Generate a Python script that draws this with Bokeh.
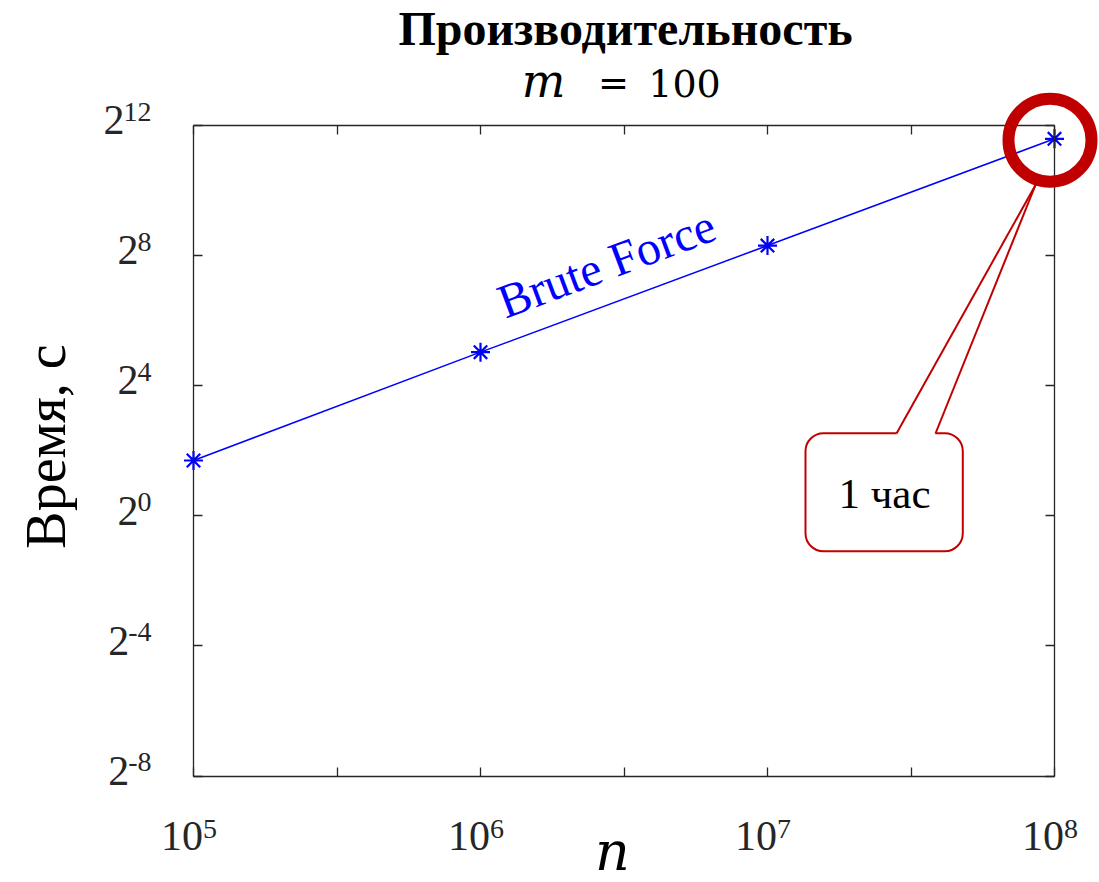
import math
from bokeh.plotting import figure
from bokeh.models import (LogAxis, FixedTicker, Label, BoxAnnotation, Range1d,
                          CustomJSTickFormatter)
from bokeh.embed import file_html
from bokeh.resources import INLINE

# ---------------- data ----------------
n_values = [1e5, 1e6, 1e7, 1e8]
time_values = [3.25, 32.7, 317.0, 3084.0]
x_tick_exps = [5, 6, 7, 8]
y_tick_exps = [-8, -4, 0, 4, 8, 12]
title_text = "Производительность"
subtitle_parts = ["m", "=", "100"]
x_label = "n"
y_label = "Время, с"
series_label = "Brute Force"
callout_text = "1 час"

# ---------------- layout ----------------
W, H = 1099, 882
BL, BR, BT, BB = 193.0, 1054.0, 125.0, 775.5   # axes box (pixels)
S = 2                                           # side panel size
FL, FR, FT, FB = S, W - S, S, H - S             # drawing frame (pixels)

XMIN, XMAX = x_tick_exps[0], x_tick_exps[-1]
YMIN, YMAX = y_tick_exps[0], y_tick_exps[-1]
DX = (BR - BL) / (XMAX - XMIN)
DY = (BB - BT) / (YMAX - YMIN)


def px2x(px):
    return 10 ** (XMIN + (px - BL) / DX)


def py2y(py):
    return 2 ** (YMAX - (py - BT) / DY)


p = figure(frame_width=FR - FL, frame_height=FB - FT,
           x_axis_type="log", y_axis_type="log",
           x_range=Range1d(px2x(FL), px2x(FR)),
           y_range=Range1d(py2y(FB), py2y(FT)),
           toolbar_location=None, output_backend="svg",
           min_border_left=S, min_border_right=S,
           min_border_top=S, min_border_bottom=S)
p.xgrid.grid_line_color = None
p.ygrid.grid_line_color = None
p.outline_line_color = None
p.background_fill_color = "white"
p.border_fill_color = "white"

AX = "#262626"
x_major = [10 ** (XMIN + 0.5 * i) for i in range(2 * (XMAX - XMIN) + 1)]
y_major = [2.0 ** e for e in y_tick_exps]


def style(ax, ticks, loc, bounds):
    ax.ticker = FixedTicker(ticks=ticks, minor_ticks=[])
    ax.formatter = CustomJSTickFormatter(code="return ''")
    ax.fixed_location = loc
    ax.bounds = bounds
    ax.major_tick_in = 9
    ax.major_tick_out = 0
    ax.minor_tick_in = 0
    ax.minor_tick_out = 0
    ax.major_label_standoff = 0
    ax.major_label_text_font_size = "1px"
    ax.axis_line_color = AX
    ax.axis_line_width = 1.3
    ax.major_tick_line_color = AX
    ax.major_tick_line_width = 1.3


xb = (10.0 ** XMIN, 10.0 ** XMAX)
yb = (2.0 ** YMIN, 2.0 ** YMAX)
style(p.xaxis[0], x_major, 2.0 ** YMIN, xb)
style(p.yaxis[0], y_major, 10.0 ** XMIN, yb)
top_ax = LogAxis()
style(top_ax, x_major, 2.0 ** YMAX, xb)
p.add_layout(top_ax, "above")
right_ax = LogAxis()
style(right_ax, y_major, 10.0 ** XMAX, yb)
p.add_layout(right_ax, "right")

# ---------------- data series ----------------
BLUE = "#0000FF"
RED = "#C00000"
p.line(n_values, time_values, line_color=BLUE, line_width=1.5)
p.scatter(n_values, time_values, marker="asterisk", size=19,
          line_color=BLUE, line_width=2.2)

K_MID = 0.34  # distance from baseline to the middle of the text box (em)


def lab(px, py, text, size, font="Liberation Serif", style="normal",
        color="black", align="left", angle=0.0):
    """Place a text whose baseline passes through pixel point (px, py)."""
    ax_ = px - K_MID * size * math.sin(angle)
    ay_ = py - K_MID * size * math.cos(angle)
    p.add_layout(Label(x=px2x(ax_), y=py2y(ay_), text=text, text_font=font,
                       text_font_size=f"{size}px", text_font_style=style,
                       text_color=color, text_align=align,
                       text_baseline="middle", angle=angle))


# ---------------- tick labels ----------------
BASE_FS, SUP_FS = 42, 28


def sup_width(s):
    return sum((0.333 if ch == "-" else 0.5) * SUP_FS for ch in s)


for e in x_tick_exps:
    tx = BL + (e - XMIN) * DX
    base_w = 2 * 0.5 * BASE_FS
    sw = sup_width(str(e))
    left = tx - 4.5 - (base_w + sw) / 2
    lab(left, 850, "10", BASE_FS, color=AX)
    lab(left + base_w, 838, str(e), SUP_FS, color=AX)

for e in y_tick_exps:
    ty = BT + (YMAX - e) * DY
    s = str(e)
    right = 151
    lab(right, ty - 4, s, SUP_FS, color=AX, align="right")
    lab(right - sup_width(s) + 1, ty + 9, "2", BASE_FS, color=AX, align="right")

# ---------------- titles ----------------
lab(625, 44, title_text, 48, style="bold", align="center")
lab(543, 96, subtitle_parts[0], 46, font="DejaVu Serif", style="italic", align="center")
lab(613, 96, subtitle_parts[1], 37, font="DejaVu Serif", align="center")
lab(684, 96, subtitle_parts[2], 38, font="DejaVu Serif", align="center")
lab(612, 869, x_label, 54, font="DejaVu Serif", style="italic", align="center")
lab(65, 446, y_label, 56, align="center", angle=math.pi / 2)
lab(505, 318, series_label, 48, color=BLUE, angle=math.radians(20.5))

# ---------------- callout ----------------
p.add_layout(BoxAnnotation(left=px2x(805), right=px2x(962.3),
                           top=py2y(432.7), bottom=py2y(550.7),
                           fill_color="white", fill_alpha=1.0,
                           line_color=RED, line_alpha=1.0, line_width=2,
                           border_radius=18))
lab(884, 508, callout_text, 43, align="center")

wx = [896, 896.5, 934.5, 935, 1035]
wy = [433, 436, 436, 433, 184.5]
p.patch([px2x(v) for v in wx], [py2y(v) for v in wy],
        fill_color="white", line_color=None, level="overlay")
p.multi_line(xs=[[px2x(896), px2x(1035)], [px2x(935), px2x(1035)]],
             ys=[[py2y(433), py2y(184.5)], [py2y(433), py2y(184.5)]],
             line_color=RED, line_width=2, level="overlay")
p.scatter(x=[px2x(1049.5)], y=[py2y(139.7)], marker="circle", size=83,
          fill_color=None, line_color=RED, line_width=12, level="overlay")

with open("out.html", "w", encoding="utf-8") as f:
    f.write(file_html(p, INLINE))
